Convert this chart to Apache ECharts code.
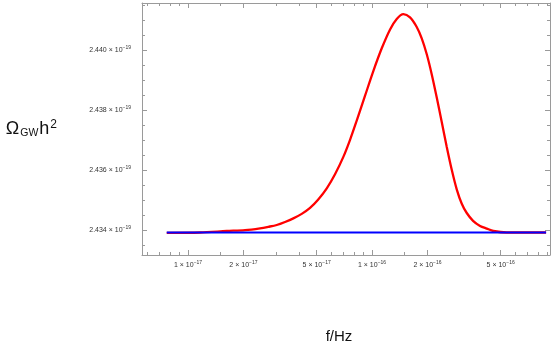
<!DOCTYPE html>
<html><head><meta charset="utf-8">
<script src="https://cdn.jsdelivr.net/npm/echarts@6/dist/echarts.min.js"></script>
<style>html,body{margin:0;padding:0;background:#fff}#c{width:555px;height:355px}</style>
</head><body><div id="c"></div>
<script>
// Frequencies in Hz
const redFreq = [7.66e-18, 1.162e-17, 1.622e-17, 2.041e-17, 2.461e-17, 2.732e-17, 3.034e-17, 3.366e-17,
  3.735e-17, 4.147e-17, 4.603e-17, 5.087e-17, 5.674e-17, 6.291e-17, 6.982e-17, 7.593e-17, 8.254e-17,
  9.162e-17, 1.016e-16, 1.129e-16, 1.253e-16, 1.362e-16, 1.480e-16, 1.608e-16, 1.749e-16, 1.862e-16,
  1.983e-16, 2.111e-16, 2.247e-16, 2.392e-16, 2.547e-16, 2.711e-16, 2.885e-16, 3.073e-16, 3.271e-16,
  3.539e-16, 3.863e-16, 4.201e-16, 4.562e-16, 5.396e-16, 8.823e-16];
// Omega_GW h^2 in units of 1e-19
const redOmega = [2.43391, 2.43392, 2.43397, 2.43400, 2.43406, 2.43411, 2.43417, 2.43427,
  2.43439, 2.43454, 2.43474, 2.43501, 2.43539, 2.43586, 2.43644, 2.43701, 2.43765,
  2.43848, 2.43930, 2.44006, 2.44069, 2.44104, 2.44120, 2.44109, 2.44077, 2.44039,
  2.43986, 2.43919, 2.43842, 2.43760, 2.43677, 2.43601, 2.43536, 2.43488, 2.43457,
  2.43431, 2.43414, 2.43405, 2.43397, 2.43392, 2.43392];
const blueFreq = [7.66e-18, 8.83e-16];
const blueOmega = [2.43392, 2.43392];

const xMajorTicks = [1e-17, 2e-17, 5e-17, 1e-16, 2e-16, 5e-16];
const xMinorTicks = [6e-18, 7e-18, 8e-18, 9e-18, 1.5e-17, 3e-17, 4e-17, 6e-17, 7e-17, 8e-17, 9e-17,
  1.5e-16, 3e-16, 4e-16, 6e-16, 7e-16, 8e-16, 9e-16];
const yMajorTicks = [2.434, 2.436, 2.438, 2.440];
const yMinorTicks = [2.4335, 2.4345, 2.435, 2.4355, 2.4365, 2.437, 2.4375, 2.4385, 2.439, 2.4395,
  2.4405, 2.441, 2.4415];
const xRange = [5.62e-18, 9.27e-16];
const yRange = [2.43317, 2.44157];
const xTitle = 'f/Hz';
const yTitle = '{a|Ω}{s|GW}{h|h}{p|2}';

const L = Math.log10;
const FONT = 'Liberation Sans, Arial, sans-serif';
const FRAME = '#9a9a9a';
const labelRich = {
  m: {fontSize: 7, fontFamily: FONT, color: '#333', lineHeight: 10},
  e: {fontSize: 5, fontFamily: FONT, color: '#333', lineHeight: 6, verticalAlign: 'top'}
};
function xFmt(v) {
  const e = Math.floor(v + 1e-6);
  const m = Math.round(Math.pow(10, v - e) * 10) / 10;
  return '{m|' + m + ' × 10}{e|−' + (-e) + '}';
}
function yFmt(v) {
  return '{m|' + v.toFixed(3) + ' × 10}{e|−19}';
}
function xAx(pos, vals, len, main, labels) {
  return {
    type: 'value', min: L(xRange[0]), max: L(xRange[1]), position: pos,
    axisLine: {show: main, lineStyle: {color: FRAME, width: 1}},
    axisTick: {show: true, inside: true, length: len, customValues: vals.map(L), lineStyle: {color: FRAME, width: 1}},
    axisLabel: labels ? {show: true, customValues: vals.map(L), formatter: xFmt, margin: 5, rich: labelRich} : {show: false},
    splitLine: {show: false}
  };
}
function yAx(pos, vals, len, main, labels) {
  return {
    type: 'value', min: yRange[0], max: yRange[1], position: pos, scale: true,
    axisLine: {show: main, lineStyle: {color: FRAME, width: 1}},
    axisTick: {show: true, inside: true, length: len, customValues: vals, lineStyle: {color: FRAME, width: 1}},
    axisLabel: labels ? {show: true, customValues: vals, formatter: yFmt, margin: 11, rich: labelRich} : {show: false},
    splitLine: {show: false}
  };
}
const xMain = xAx('bottom', xMajorTicks, 5, true, true);
xMain.name = xTitle;
xMain.nameLocation = 'middle';
xMain.nameGap = 74;
xMain.nameTextStyle = {fontSize: 15, fontFamily: FONT, color: '#111', padding: [0, 14, 0, 0]};
const yMain = yAx('left', yMajorTicks, 5, true, true);
yMain.name = yTitle;
yMain.nameLocation = 'middle';
yMain.nameRotate = 0;
yMain.nameGap = 85;
yMain.nameTextStyle = {
  rich: {
    a: {fontSize: 18, fontFamily: FONT, color: '#111', lineHeight: 20},
    s: {fontSize: 10.5, fontFamily: FONT, color: '#111', lineHeight: 12, verticalAlign: 'bottom', padding: [0, 1, 0, 1]},
    h: {fontSize: 18, fontFamily: FONT, color: '#111', lineHeight: 20},
    p: {fontSize: 12, fontFamily: FONT, color: '#111', lineHeight: 6, verticalAlign: 'top', padding: [0, 0, 0, 1]}
  }
};

const chart = echarts.init(document.getElementById('c'), null, {renderer: 'canvas'});
chart.setOption({
  animation: false,
  backgroundColor: '#fff',
  grid: {left: 142, right: 5, top: 3, bottom: 100},
  xAxis: [xMain, xAx('bottom', xMinorTicks, 3, false, false),
          xAx('top', xMajorTicks, 5, true, false), xAx('top', xMinorTicks, 3, false, false)],
  yAxis: [yMain, yAx('left', yMinorTicks, 3, false, false),
          yAx('right', yMajorTicks, 5, true, false), yAx('right', yMinorTicks, 3, false, false)],
  series: [
    {type: 'line', xAxisIndex: 0, yAxisIndex: 0, showSymbol: false, smooth: 0.3, z: 2,
     data: redFreq.map((f, i) => [L(f), redOmega[i]]),
     lineStyle: {color: '#ff0000', width: 2.3}},
    {type: 'line', xAxisIndex: 0, yAxisIndex: 0, showSymbol: false, z: 3,
     data: blueFreq.map((f, i) => [L(f), blueOmega[i]]),
     lineStyle: {color: '#0000ff', width: 2.2}}
  ]
});
</script></body></html>
